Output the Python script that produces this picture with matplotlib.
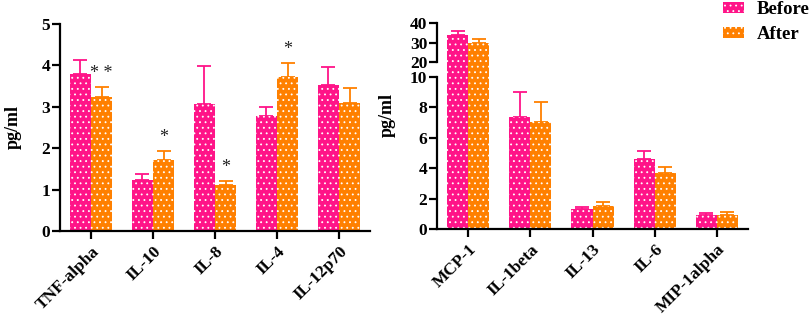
import matplotlib
matplotlib.use("Agg")
import matplotlib.pyplot as plt
from matplotlib.patches import Patch
import numpy as np

# ---- data ----
left_categories = ["TNF-alpha", "IL-10", "IL-8", "IL-4", "IL-12p70"]
left_before = [3.78, 1.23, 3.06, 2.77, 3.53]
left_before_err = [0.36, 0.14, 0.92, 0.22, 0.44]
left_after = [3.24, 1.72, 1.11, 3.71, 3.08]
left_after_err = [0.23, 0.22, 0.10, 0.34, 0.37]
left_stars = ["* *", "*", "*", "*", ""]

right_categories = ["MCP-1", "IL-1beta", "IL-13", "IL-6", "MIP-1alpha"]
right_before = [33.8, 7.35, 1.34, 4.6, 0.95]
right_before_err = [2.2, 1.65, 0.11, 0.53, 0.13]
right_after = [29.7, 7.02, 1.51, 3.7, 0.95]
right_after_err = [1.9, 1.31, 0.25, 0.36, 0.14]

series_labels = ["Before", "After"]
PINK = "#FF1488"
ORANGE = "#FF8000"

plt.rcParams["font.family"] = ["Liberation Serif", "DejaVu Serif"]
plt.rcParams["font.weight"] = "bold"
plt.rcParams["hatch.linewidth"] = 0.6

fig = plt.figure(figsize=(8.09, 3.18), dpi=100)

W = 0.34
SPINE_LW = 1.6
TICK_FS = 12.5
HATCH = "..."


def draw_bars(ax, before, berr, after, aerr, bottom=None):
    x = np.arange(len(before))
    b = np.asarray(before, float)
    a = np.asarray(after, float)
    if bottom is None:
        ax.bar(x - W / 2, b, W, color=PINK, edgecolor="white", linewidth=0,
               hatch=HATCH, zorder=2)
        ax.bar(x + W / 2, a, W, color=ORANGE, edgecolor="white", linewidth=0,
               hatch=HATCH, zorder=2)
    else:
        # upper part of broken axis: only the portion above `bottom`
        ax.bar(x - W / 2, np.clip(b - bottom, 0, None), W, bottom=bottom, color=PINK,
               edgecolor="white", linewidth=0, hatch=HATCH, zorder=2, clip_on=False)
        ax.bar(x + W / 2, np.clip(a - bottom, 0, None), W, bottom=bottom, color=ORANGE,
               edgecolor="white", linewidth=0, hatch=HATCH, zorder=2, clip_on=False)
    ax.errorbar(x - W / 2, b, yerr=[np.zeros(len(b)), berr], fmt="none",
                ecolor=PINK, elinewidth=1.3, capsize=5, capthick=1.3, zorder=1)
    ax.errorbar(x + W / 2, a, yerr=[np.zeros(len(a)), aerr], fmt="none",
                ecolor=ORANGE, elinewidth=1.3, capsize=5, capthick=1.3, zorder=1)
    return x


def style(ax):
    for s in ["top", "right"]:
        ax.spines[s].set_visible(False)
    for s in ["left", "bottom"]:
        ax.spines[s].set_linewidth(SPINE_LW)
    ax.tick_params(axis="y", width=SPINE_LW, length=5.5, pad=1.5, labelsize=TICK_FS)
    ax.tick_params(axis="x", width=SPINE_LW, length=6, pad=3, labelsize=TICK_FS)
    for lab in ax.get_yticklabels():
        lab.set_fontweight("bold")


# ---- left panel ----
axL = fig.add_axes([0.0742, 0.2736, 0.3832, 0.651])
x = draw_bars(axL, left_before, left_before_err, left_after, left_after_err)
axL.set_ylim(0, 5)
axL.set_xlim(-0.5, 4.5)
axL.set_yticks(range(0, 6))
axL.set_xticks(x)
axL.set_xticklabels(left_categories, rotation=45, ha="right", rotation_mode="anchor",
                    fontweight="bold", fontsize=TICK_FS)
style(axL)
axL.set_ylabel("pg/ml", fontsize=13, fontweight="bold")
axL.yaxis.set_label_coords(-0.123, 0.5)
for i, s in enumerate(left_stars):
    if s:
        axL.text(i + W / 2, left_after[i] + left_after_err[i] + 0.12, s,
                 ha="center", va="bottom", fontsize=13, fontweight="normal",
                 color="#222222")

# ---- right panel (broken axis) ----
axR = fig.add_axes([0.5402, 0.2799, 0.3844, 0.478])
axRt = fig.add_axes([0.5402, 0.805, 0.3844, 0.1226], sharex=axR)
draw_bars(axR, right_before, right_before_err, right_after, right_after_err)
draw_bars(axRt, right_before, right_before_err, right_after, right_after_err, bottom=10)
axR.set_ylim(0, 10)
axR.set_yticks(range(0, 11, 2))
axRt.set_ylim(20, 40)
axRt.set_yticks([20, 30, 40])
axR.set_xlim(-0.5, 4.5)
xr = np.arange(len(right_categories))
axR.set_xticks(xr)
axR.set_xticklabels(right_categories, rotation=45, ha="right", rotation_mode="anchor",
                    fontweight="bold", fontsize=TICK_FS)
style(axR)
style(axRt)
axRt.spines["bottom"].set_visible(False)
axRt.tick_params(axis="x", bottom=False, labelbottom=False)
axRt.patch.set_visible(False)
axR.set_ylabel("pg/ml", fontsize=13, fontweight="bold")
axR.yaxis.set_label_coords(-0.132, 0.75)

# ---- legend ----
handles = [Patch(facecolor=PINK, edgecolor="white", hatch=HATCH, linewidth=0),
           Patch(facecolor=ORANGE, edgecolor="white", hatch=HATCH, linewidth=0)]
fig.legend(handles, series_labels, loc="upper left", bbox_to_anchor=(0.873, 1.05),
           frameon=False, prop={"weight": "bold", "size": 13.5},
           handlelength=1.1, handleheight=0.55, handletextpad=0.7, labelspacing=0.45)

fig.savefig("out.png", dpi=100)
